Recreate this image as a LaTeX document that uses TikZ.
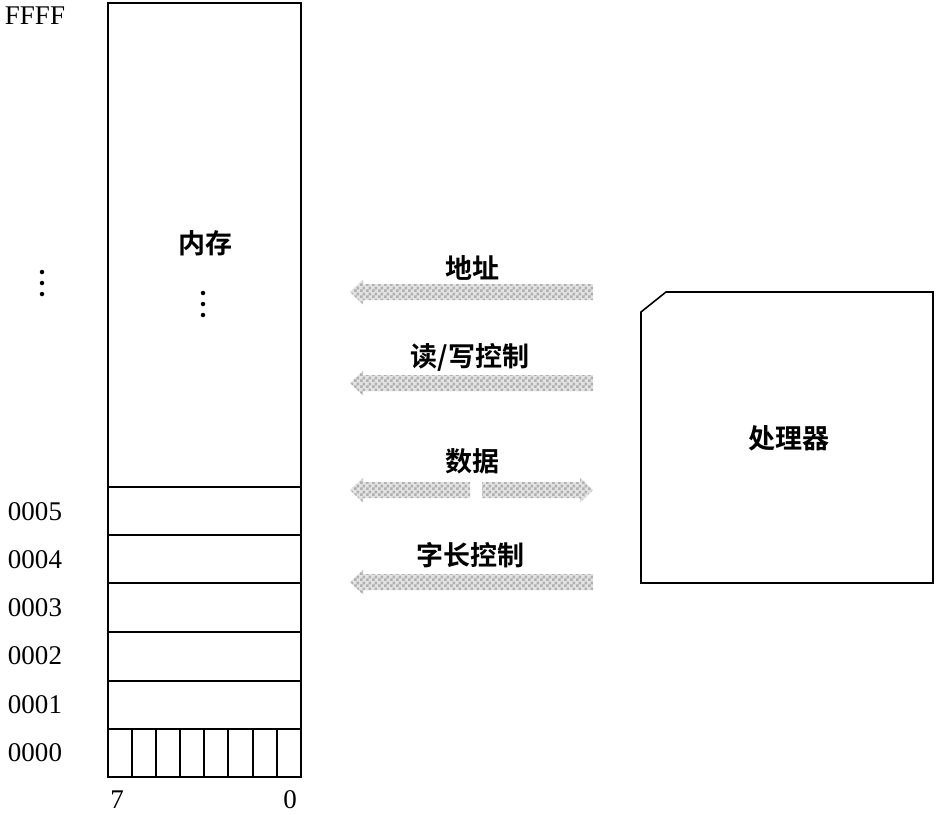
\documentclass[tikz,border=0pt]{standalone}
\usepackage{fontspec}
\setmainfont{Liberation Serif}
\newfontfamily\cjk{Noto Sans CJK SC}[BoldFont={Noto Sans CJK SC Bold}]
\usetikzlibrary{patterns}
\pgfdeclarepatternformonly{mycheck}{\pgfpointorigin}{\pgfpoint{6pt}{6pt}}{\pgfpoint{6pt}{6pt}}{%
  \pgfpathrectangle{\pgfpointorigin}{\pgfpoint{3pt}{3pt}}%
  \pgfpathrectangle{\pgfpoint{3pt}{3pt}}{\pgfpoint{3pt}{3pt}}%
  \pgfusepath{fill}}
\begin{document}
\begin{tikzpicture}[x=1pt,y=-1pt,
  box/.style={line width=1.6pt},
  addr/.style={font=\fontsize{27}{27}\selectfont, inner sep=0pt},
  lbl/.style={font=\cjk\fontsize{27}{27}\selectfont\bfseries, inner sep=0pt},
  dot/.style={circle, fill=black, inner sep=0pt, minimum size=4.5pt},
  fat/.style={preaction={fill=gray!22}, pattern=mycheck, pattern color=gray!62}]
\useasboundingbox (0,0) rectangle (936,814);
% memory
\draw[box] (108,3) rectangle (301,777);
\foreach \yy in {487,535,583,632,681,729} \draw[box] (108,\yy) -- (301,\yy);
\foreach \xx in {132,156,180,204,228,253,277} \draw[box] (\xx,729) -- (\xx,777);
\node[lbl] (mem) at (205,243) {内存};
\foreach \yy [count=\i] in {293,304,315} \node[dot] (md\i) at (203,\yy) {};
% addresses
\node[addr] (aF) at (35,16) {FFFF};
\foreach \yy [count=\i] in {272,283,294} \node[dot] (ad\i) at (42,\yy) {};
\node[addr] (a5) at (35,512) {0005};
\node[addr] (a4) at (35,560) {0004};
\node[addr] (a3) at (35,608) {0003};
\node[addr] (a2) at (35,656) {0002};
\node[addr] (a1) at (35,705) {0001};
\node[addr] (a0) at (35,753) {0000};
\node[addr] (b7) at (117,800) {7};
\node[addr] (b0) at (290,800) {0};
% processor
\draw[box] (641,312) -- (666,292) -- (933,292) -- (933,583) -- (641,583) -- cycle;
\node[lbl] (cpu) at (789,438) {处理器};
% arrow labels
\node[lbl] (l1) at (472,268) {地址};
\node[lbl] (l2) at (470,357) {读/写控制};
\node[lbl] (l3) at (472,461) {数据};
\node[lbl] (l4) at (470,555) {字长控制};
% fat arrows
\foreach \yc in {292,383,582} {
  \path[fat] (350,\yc) -- (363,\yc-12.5) -- (363,\yc-8) -- (593,\yc-8) -- (593,\yc+8) -- (363,\yc+8) -- (363,\yc+12.5) -- cycle;
}
\path[fat] (350,490) -- (363,477.5) -- (363,482) -- (470,482) -- (470,498) -- (363,498) -- (363,502.5) -- cycle;
\path[fat] (593,490) -- (580,477.5) -- (580,482) -- (482,482) -- (482,498) -- (580,498) -- (580,502.5) -- cycle;
\end{tikzpicture}
\end{document}
